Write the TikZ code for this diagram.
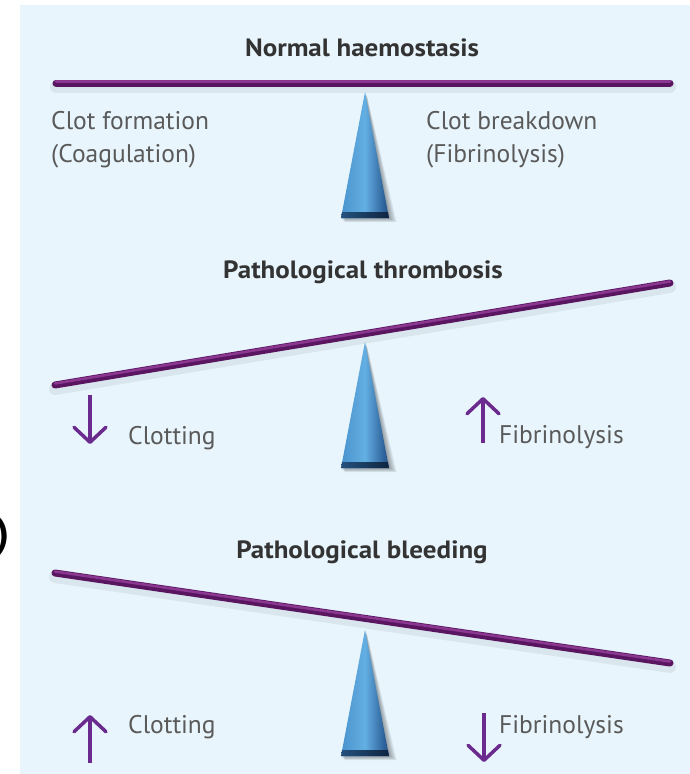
\documentclass[tikz,border=0pt]{standalone}
\usepackage{fontspec}
\setmainfont{PT Sans}
\newfontfamily\ttlfont[FakeStretch=1.08]{PT Sans}
\usetikzlibrary{arrows.meta}
\definecolor{panel}{HTML}{E8F5FC}
\definecolor{beamc}{HTML}{5A1560}
\definecolor{beamhi}{HTML}{8A3790}
\definecolor{arrc}{HTML}{6A2A8E}
\definecolor{txt}{HTML}{5A5A5A}
\definecolor{ttl}{HTML}{333333}
\definecolor{triL}{HTML}{4A94CE}
\definecolor{triM}{HTML}{63AEE2}
\definecolor{triR}{HTML}{1E4E86}
\definecolor{baseL}{HTML}{24527E}
\definecolor{baseR}{HTML}{0E2440}
\tikzset{
  lbl/.style={font=\fontsize{25.5}{30}\selectfont, text=txt, inner sep=0pt, anchor=base west},
  ttlstyle/.style={font=\ttlfont\bfseries\fontsize{25}{29}\selectfont, text=ttl, inner sep=0pt, anchor=base},
  beamline/.style={line width=7pt, line cap=round, draw=beamc},
  beamhigh/.style={line width=2.5pt, line cap=round, draw=beamhi, transform canvas={yshift=1.5pt}},
  beamshadow/.style={line width=12pt, line cap=round, draw=black, opacity=0.06, transform canvas={yshift=-4pt}},
  updown/.style={draw=arrc, line width=3.5pt, -{Straight Barb[length=15pt,width=32pt,round]}},
  trishadow/.style={fill=black, opacity=0.055},
  fulcrum/.pic={
    \foreach \k in {1,...,7}{
      \path[trishadow] (0.3*\k,0.6*\k) -- (-24+0.5*\k,126+0.6*\k) -- (24+1.1*\k,126+0.6*\k) -- cycle;
    }
    \path[left color=triL, right color=triR, middle color=triM]
      (0,0) -- (-24,126) -- (24,126) -- cycle;
    \path[left color=baseL, right color=baseR]
      (-22.9,120) -- (22.9,120) -- (24,126) -- (-24,126) -- cycle;
  }
}
\begin{document}
\begin{tikzpicture}[x=1pt,y=-1pt]
\useasboundingbox (0,0) rectangle (690,774);
\fill[panel] (20,5) rectangle (690,774);

\node[font=\bfseries\fontsize{40}{40}\selectfont, anchor=east, inner sep=0pt] (paren) at (10,537) {)};

% ---------- Normal haemostasis ----------
\node[ttlstyle] (t1) at (362,56) {Normal haemostasis};
\coordinate (b1l) at (56,83);
\coordinate (b1r) at (670,83);
\draw[beamshadow] (b1l) -- (b1r);
\draw[beamline] (b1l) -- (b1r);
\draw[beamhigh] (b1l) -- (b1r);
\pic at (365,92) {fulcrum};
\node[lbl] (l1a) at (51,129) {Clot formation};
\node[lbl] (l1b) at (51,162) {(Coagulation)};
\node[lbl] (r1a) at (426,129) {Clot breakdown};
\node[lbl] (r1b) at (426,162) {(Fibrinolysis)};

% ---------- Pathological thrombosis ----------
\node[ttlstyle] (t2) at (363,278) {Pathological thrombosis};
\coordinate (b2l) at (55,385);
\coordinate (b2r) at (670,283);
\draw[beamshadow] (b2l) -- (b2r);
\draw[beamline] (b2l) -- (b2r);
\draw[beamhigh] (b2l) -- (b2r);
\pic at (365,342) {fulcrum};
\coordinate (a2s) at (90,395);
\coordinate (a2e) at (90,444);
\draw[updown] (a2s) -- (a2e);
\node[lbl] (c2) at (128,444) {Clotting};
\coordinate (a3s) at (483,443);
\coordinate (a3e) at (483,397);
\draw[updown] (a3s) -- (a3e);
\node[lbl] (f2) at (499,443) {Fibrinolysis};

% ---------- Pathological bleeding ----------
\node[ttlstyle] (t3) at (362,558) {Pathological bleeding};
\coordinate (b3l) at (55,573);
\coordinate (b3r) at (670,663);
\draw[beamshadow] (b3l) -- (b3r);
\draw[beamline] (b3l) -- (b3r);
\draw[beamhigh] (b3l) -- (b3r);
\pic at (365,630) {fulcrum};
\coordinate (a4s) at (90,763);
\coordinate (a4e) at (90,715);
\draw[updown] (a4s) -- (a4e);
\node[lbl] (c3) at (128,733) {Clotting};
\coordinate (a5s) at (484,713);
\coordinate (a5e) at (484,762);
\draw[updown] (a5s) -- (a5e);
\node[lbl] (f3) at (499,733) {Fibrinolysis};
\end{tikzpicture}
\end{document}
